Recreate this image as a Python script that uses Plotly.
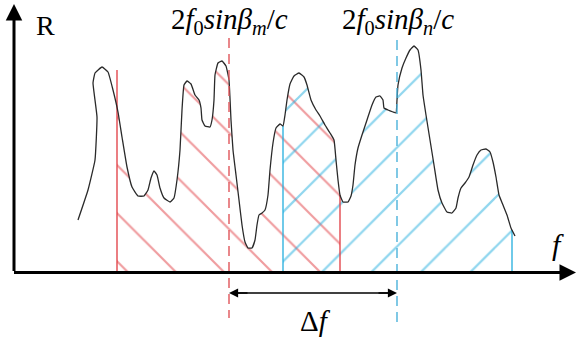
import numpy as np
import plotly.graph_objects as go

W, H = 577, 342
AXIS_PX = 272.5  # pixel row of the f axis

# Spectrum curve in pixel coordinates (x, y-down)
curve_px_x = [78, 88, 95, 97, 93, 95, 102, 108, 113, 118, 122, 127, 132, 138, 144, 148, 151, 154, 157, 160, 164,
              170, 174, 177, 180, 182, 184, 187, 191, 195, 199, 201, 202, 205, 210, 212, 214, 215, 218, 222, 226,
              229, 231, 233, 236, 239, 242, 245, 248, 252, 255, 257, 259, 262, 265, 268, 270, 273, 276, 280, 283,
              285, 287, 290, 294, 299, 304, 307, 311, 316, 320, 325, 330, 334, 336, 338, 340, 343, 348, 351, 353,
              355, 358, 362, 367, 372, 376, 380, 383, 384, 388, 393, 396, 397, 398, 402, 406, 410, 414, 418, 421,
              423, 426, 430, 434, 438, 442, 447, 452, 456, 458, 461, 465, 469, 473, 477, 481, 486, 490, 493, 496,
              499, 503, 507, 511, 515]
curve_px_y = [220, 190, 160, 117, 83, 73, 67, 72, 90, 112, 137, 167, 187, 196, 196, 190, 178, 171, 175, 188, 198,
              202, 198, 180, 150, 110, 85, 81, 84, 95, 100, 108, 120, 126, 127, 120, 100, 75, 63, 61, 66,
              80, 120, 150, 175, 200, 225, 242, 248, 248, 240, 225, 215, 213, 210, 195, 170, 143, 128, 124, 126,
              115, 100, 84, 76, 73, 77, 85, 100, 110, 116, 125, 133, 140, 160, 180, 195, 202, 202, 196, 185,
              165, 148, 135, 120, 105, 97, 96, 100, 108, 110, 112, 113, 100, 85, 68, 58, 50, 46, 50, 70,
              95, 115, 140, 165, 190, 203, 212, 213, 208, 198, 188, 183, 177, 165, 155, 150, 149, 152, 162, 177,
              195, 205, 215, 228, 236]

# Region bounds (f positions) and marker positions
red_bounds = [117, 340]
blue_bounds = [283, 512]
red_left_top_px = 70
f_m, f_n = 229, 397
dash_m_px = [38, 318]
dash_n_px = [40, 325]
arrow_px_y = 293

labels = {
    "m": "2<i>f</i><sub>0</sub><i>sinβ</i><sub><i>m</i></sub>/<i>c</i>",
    "n": "2<i>f</i><sub>0</sub><i>sinβ</i><sub><i>n</i></sub>/<i>c</i>",
}

RED = "#e03a40"
BLUE = "#22aede"


def h(py):
    return AXIS_PX - np.asarray(py, dtype=float)


cx = np.array(curve_px_x, dtype=float)
cy = h(curve_px_y)
mono = cx >= 113  # monotonic part of the curve
mx, my = cx[mono], cy[mono]


def region(b0, b1):
    inside = (mx > b0) & (mx < b1)
    y0 = float(np.interp(b0, mx, my))
    y1 = float(np.interp(b1, mx, my))
    xs = [b0, b0] + list(mx[inside]) + [b1, b1, b0]
    ys = [0, y0] + list(my[inside]) + [y1, 0, 0]
    return xs, ys, y0, y1


fig = go.Figure()

rx, ry, r0, r1 = region(*red_bounds)
bx, by, b0, b1 = region(*blue_bounds)

fig.add_trace(go.Scatter(x=rx, y=ry, mode="lines", line=dict(width=0), fill="toself",
                         fillcolor="rgba(0,0,0,0)",
                         fillpattern=dict(shape="\\", fgcolor=RED, bgcolor="rgba(0,0,0,0)",
                                          size=34, solidity=0.065),
                         hoverinfo="skip"))
fig.add_trace(go.Scatter(x=bx, y=by, mode="lines", line=dict(width=0), fill="toself",
                         fillcolor="rgba(0,0,0,0)",
                         fillpattern=dict(shape="/", fgcolor=BLUE, bgcolor="rgba(0,0,0,0)",
                                          size=35, solidity=0.065),
                         hoverinfo="skip"))

# region boundary lines
for xb, top, col in [(red_bounds[0], float(h(red_left_top_px)), RED), (red_bounds[1], r1, RED),
                     (blue_bounds[0], b0, BLUE), (blue_bounds[1], b1, BLUE)]:
    fig.add_trace(go.Scatter(x=[xb, xb], y=[0, top], mode="lines", line=dict(color=col, width=1.3),
                             hoverinfo="skip"))

# curve
fig.add_trace(go.Scatter(x=cx, y=cy, mode="lines",
                         line=dict(color="#2a2a2a", width=1.3, shape="spline", smoothing=0.35),
                         hoverinfo="skip"))

# dashed marker lines
fig.add_trace(go.Scatter(x=[f_m, f_m], y=list(h(dash_m_px)), mode="lines",
                         line=dict(color="#e0555a", width=1.4, dash="10px,6px"), hoverinfo="skip"))
fig.add_trace(go.Scatter(x=[f_n, f_n], y=list(h(dash_n_px)), mode="lines",
                         line=dict(color="#4ab2da", width=1.4, dash="10px,6px"), hoverinfo="skip"))

# axes with arrows
ax_x = 14
fig.add_annotation(x=ax_x, y=float(h(4)), ax=ax_x, ay=0, xref="x", yref="y", axref="x", ayref="y",
                   showarrow=True, arrowhead=2, arrowsize=1.1, arrowwidth=3, arrowcolor="black", text="")
fig.add_annotation(x=576, y=0, ax=ax_x - 1.5, ay=0, xref="x", yref="y", axref="x", ayref="y",
                   showarrow=True, arrowhead=2, arrowsize=1.1, arrowwidth=3, arrowcolor="black", text="")

# delta f double arrow
ay_ = float(h(arrow_px_y))
fig.add_trace(go.Scatter(x=[f_m + 6, f_n - 6], y=[ay_, ay_], mode="lines",
                         line=dict(color="black", width=1.4), hoverinfo="skip"))
for tip, tail in ((f_m, f_m + 20), (f_n, f_n - 20)):
    fig.add_annotation(x=tip, y=ay_, ax=tail, ay=ay_, xref="x", yref="y", axref="x", ayref="y",
                       showarrow=True, arrowhead=2, arrowsize=1.3, arrowwidth=1.4, arrowcolor="black", text="")

SERIF = "Liberation Serif"
fig.add_annotation(x=45, y=float(h(25)), text="R", showarrow=False, font=dict(family=SERIF, size=28, color="black"))
fig.add_annotation(x=558, y=float(h(244)), text="<i>f</i>", showarrow=False,
                   font=dict(family=SERIF, size=30, color="black"))
fig.add_annotation(x=315, y=float(h(321)), text="Δ<i>f</i>", showarrow=False,
                   font=dict(family=SERIF, size=29, color="black"))
fig.add_annotation(x=229, y=float(h(21)), text=labels["m"], showarrow=False,
                   font=dict(family=SERIF, size=29, color="black"))
fig.add_annotation(x=398, y=float(h(21)), text=labels["n"], showarrow=False,
                   font=dict(family=SERIF, size=29, color="black"))

fig.update_layout(width=W, height=H, margin=dict(l=0, r=0, t=0, b=0), showlegend=False,
                  paper_bgcolor="white", plot_bgcolor="white")
fig.update_xaxes(range=[0, W], visible=False, fixedrange=True)
fig.update_yaxes(range=[AXIS_PX - H, AXIS_PX], visible=False, fixedrange=True)

fig.write_html("out.html")
